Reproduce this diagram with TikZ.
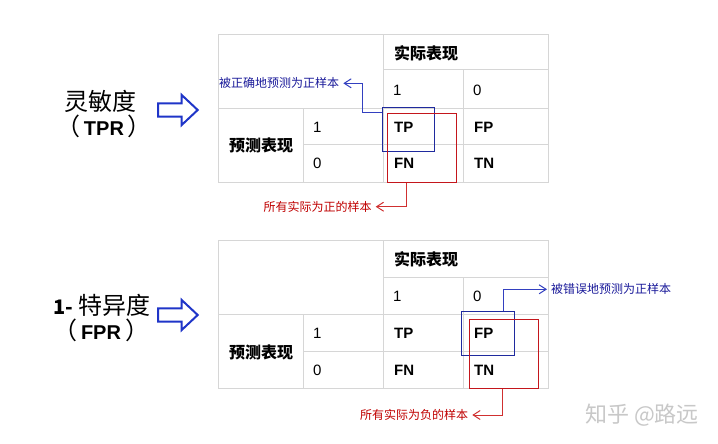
\documentclass[tikz,border=0pt]{standalone}
\usepackage{fontspec}
\setmainfont{Liberation Sans}
\newfontfamily\cjk{Noto Sans CJK SC}
\usetikzlibrary{arrows.meta}
\definecolor{gridgray}{HTML}{D6D6D6}
\definecolor{boxblue}{HTML}{1F2A9E}
\definecolor{boxred}{HTML}{C4161C}
\definecolor{linkblue}{HTML}{3340C0}
\definecolor{linkred}{HTML}{D03030}
\definecolor{textblue}{HTML}{1A1A9A}
\definecolor{textred}{HTML}{C00000}
\definecolor{fatblue}{HTML}{1F35C8}
\definecolor{markgray}{HTML}{C8C8C8}

\begin{document}
\begin{tikzpicture}[x=1pt,y=-1pt]
\tikzstyle{every node}+=[inner sep=0pt]
\tikzstyle{tablegrid}=[draw=gridgray, line width=1pt]
\tikzstyle{cell}=[anchor=west, font=\fontsize{15}{15}\selectfont]
\tikzstyle{cellb}=[anchor=west, font=\fontsize{15}{15}\selectfont\bfseries]
\tikzstyle{head}=[font=\fontsize{16}{16}\selectfont\cjk\bfseries]
\tikzstyle{note}=[font=\fontsize{12}{12}\selectfont\cjk, inner sep=4pt]
\tikzstyle{big}=[font=\fontsize{24}{24}\selectfont\cjk]
\tikzstyle{rate}=[font=\fontsize{20}{20}\selectfont\bfseries]
\tikzstyle{bluebox}=[draw=boxblue, line width=1pt]
\tikzstyle{redbox}=[draw=boxred, line width=1pt]
\tikzstyle{bluelink}=[draw=linkblue, line width=1pt, -{Straight Barb[length=7pt,width=9pt]}]
\tikzstyle{redlink}=[draw=linkred, line width=1pt, -{Straight Barb[length=7pt,width=9pt]}]
\tikzstyle{fatarrow}=[draw=fatblue, line width=2pt, line join=miter]
\newcommand{\lpar}{{\fontsize{24}{24}\selectfont\cjk\mdseries （}\kern4pt}
\newcommand{\rpar}{\kern4pt{\fontsize{24}{24}\selectfont\cjk\mdseries ）}}
\path[fill=white, use as bounding box] (0,0) rectangle (718,444);
\draw [tablegrid] (218,35) rectangle (548,182);
\draw [tablegrid] (383,70) -- (548,70);
\draw [tablegrid] (218,108) -- (548,108);
\draw [tablegrid] (303,144) -- (548,144);
\draw [tablegrid] (303,108) -- (303,182);
\draw [tablegrid] (383,35) -- (383,182);
\draw [tablegrid] (463,70) -- (463,182);
\node [head, anchor=west] (acttop) at (394,53) {实际表现};
\node [cell] (onetop) at (393,90) {1};
\node [cell] (zerotop) at (473,90) {0};
\node [head] (predtop) at (261,145) {预测表现};
\node [cell] (prow1top) at (313,127) {1};
\node [cell] (prow0top) at (313,163) {0};
\node [cellb] (tptop) at (394,127) {TP};
\node [cellb] (fptop) at (474,127) {FP};
\node [cellb] (fntop) at (394,163) {FN};
\node [cellb] (tntop) at (474,163) {TN};
\node [bluebox, minimum width=52pt, minimum height=43.7pt] (tpbox) at (408.3,129.2) {};
\node [redbox, minimum width=69.4pt, minimum height=69pt] (posbox) at (422,147.8) {};
\node [note, textblue, anchor=east] (tpnote) at (343.3,83.3) {被正确地预测为正样本};
\node [note, textred, anchor=east] (posnote) at (375.7,206.7) {所有实际为正的样本};
\draw [bluelink] ([yshift=-5.4pt]tpbox.north west) -- ++(-19.6,0) |- (tpnote.east);
\draw [redlink] ([xshift=20pt]posbox.south west) |- (posnote.east);
\draw [tablegrid] (218,240) rectangle (548,388);
\draw [tablegrid] (383,277) -- (548,277);
\draw [tablegrid] (218,314) -- (548,314);
\draw [tablegrid] (303,351) -- (548,351);
\draw [tablegrid] (303,314) -- (303,388);
\draw [tablegrid] (383,240) -- (383,388);
\draw [tablegrid] (463,277) -- (463,388);
\node [head, anchor=west] (actbot) at (394,259) {实际表现};
\node [cell] (onebot) at (393,296) {1};
\node [cell] (zerobot) at (473,296) {0};
\node [head] (predbot) at (261,352) {预测表现};
\node [cell] (prow1bot) at (313,333) {1};
\node [cell] (prow0bot) at (313,370) {0};
\node [cellb] (tpbot) at (394,333) {TP};
\node [cellb] (fpbot) at (474,333) {FP};
\node [cellb] (fnbot) at (394,370) {FN};
\node [cellb] (tnbot) at (474,370) {TN};
\node [bluebox, minimum width=52.6pt, minimum height=44pt] (fpbox) at (488,333.7) {};
\node [redbox, minimum width=69pt, minimum height=69pt] (negbox) at (503.8,353.8) {};
\node [note, textblue, anchor=west] (fpnote) at (547,289.3) {被错误地预测为正样本};
\node [note, textred, anchor=east] (negnote) at (472.3,415) {所有实际为负的样本};
\draw [bluelink] ([xshift=-11.6pt]fpbox.north east) |- (fpnote.west);
\draw [redlink] ([xshift=34pt]negbox.south west) |- (negnote.east);
\node [big] (sens) at (100,101.7) {灵敏度};
\node [rate] (tpr) at (104,126.7) {\lpar TPR\rpar};
\node [big] (spec) at (102,305.7) {{\fontsize{20}{20}\selectfont\bfseries 1-} 特异度};
\node [rate] (fpr) at (101,330.7) {\lpar FPR\rpar};
\draw [fatarrow] (158,103.3) -- (181.7,103.3) -- (181.7,95) -- (197.7,110) -- (181.7,125) -- (181.7,116.7) -- (158,116.7) -- cycle;
\draw [fatarrow] (158,308.3) -- (181.7,308.3) -- (181.7,300) -- (197.7,315) -- (181.7,330) -- (181.7,321.7) -- (158,321.7) -- cycle;
\node [font=\fontsize{22}{22}\selectfont\cjk, markgray, anchor=west] (mark) at (585,415) {知乎 @路远};
\end{tikzpicture}
\end{document}
